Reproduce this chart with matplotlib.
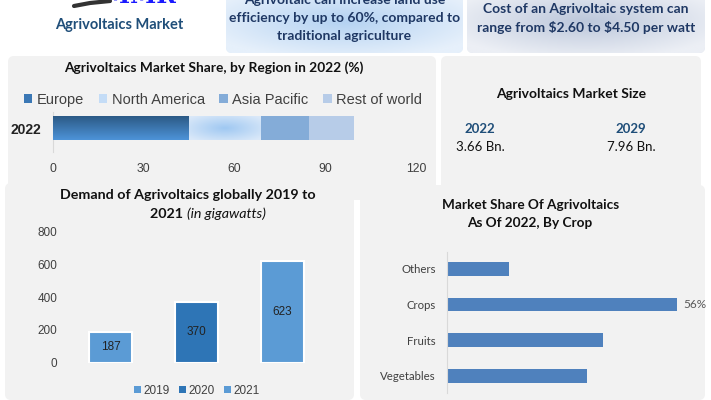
import numpy as np
import matplotlib
matplotlib.use('Agg')
import matplotlib.pyplot as plt
from matplotlib.patches import FancyBboxPatch, Patch
from matplotlib.colors import to_rgb

# ---------------- data ----------------
regions = ['Europe', 'North America', 'Asia Pacific', 'Rest of world']
region_share = [45.0, 23.7, 15.9, 14.8]
region_colors = ['#3b78b5', '#cfe2f8', '#84acd8', '#b7cce8']
region_year = '2022'
region_ticks = [0, 30, 60, 90, 120]

demand_years = ['2019', '2020', '2021']
demand_values = [187, 370, 623]
demand_colors = ['#5b9bd5', '#2e75b6', '#5b9bd5']
demand_ticks = [0, 200, 400, 600, 800]

crops = ['Vegetables', 'Fruits', 'Crops', 'Others']
crop_share = [34, 38, 56, 15]

size_years = ['2022', '2029']
size_values = ['3.66 Bn.', '7.96 Bn.']

W, H = 711, 400
fig = plt.figure(figsize=(7.11, 4.0), dpi=100)
fig.patch.set_facecolor('white')

CAL = ['Lato', 'DejaVu Sans']
ARI = ['Liberation Sans', 'DejaVu Sans']
NAVY = '#1f3864'
PANEL = '#f2f2f2'


def add_ax(x0, y0, x1, y1, **kw):
    return fig.add_axes([x0 / W, 1 - y1 / H, (x1 - x0) / W, (y1 - y0) / H], **kw)


bg = fig.add_axes([0, 0, 1, 1], zorder=-5)
bg.set_xlim(0, W)
bg.set_ylim(H, 0)
bg.axis('off')


def panel(x0, y0, x1, y1, color=PANEL, r=6):
    p = FancyBboxPatch((x0, y0), x1 - x0, y1 - y0,
                       boxstyle=f'round,pad=0,rounding_size={r}',
                       fc=color, ec='none', zorder=0)
    bg.add_patch(p)
    return p


def radial(c_center, c_edge, nx=200, ny=60, scale=1.2):
    X, Y = np.meshgrid(np.linspace(-1, 1, nx), np.linspace(-1, 1, ny))
    R = np.clip(np.sqrt(X ** 2 + Y ** 2) / scale, 0, 1)[..., None]
    cc = np.array(to_rgb(c_center))
    ce = np.array(to_rgb(c_edge))
    return cc[None, None, :] * (1 - R) + ce[None, None, :] * R


# panels
panel(8, 56, 436, 200)
panel(441, 56, 701, 190)
panel(5, 183, 354, 400)
panel(360, 185, 705, 400)

# top boxes with gradients
b1 = panel(226, -10, 463, 53, color='#dceaf8')
im = bg.imshow(radial('#b4d2f2', '#e6f0fb'), extent=[226, 463, 53, -10],
               aspect='auto', zorder=1)
im.set_clip_path(b1)
b2 = panel(467, -10, 705, 53, color='#dfe4ee')
im2 = bg.imshow(radial('#bcc7db', '#eceff5'), extent=[467, 705, 53, -10],
                aspect='auto', zorder=1)
im2.set_clip_path(b2)

# logo + title
bg.text(140, 8, 'MMR', color='#1a1aff', fontsize=17, fontweight='bold',
        family='DejaVu Serif', ha='center', va='bottom', zorder=3)
bg.plot([74, 90, 110], [6, 3, 1], color='#333333', lw=3, zorder=3,
        solid_capstyle='round')
bg.text(119, 25, 'Agrivoltaics Market', color='#1f4e79', fontsize=10.5,
        fontweight='bold', family=CAL, ha='center', va='center', zorder=3)

for i, line in enumerate(['Agrivoltaic can increase land use',
                          'efficiency by up to 60%, compared to',
                          'traditional agriculture']):
    bg.text(344.5, 0 + 18 * i, line, color=NAVY, fontsize=10, fontweight='bold',
            family=CAL, ha='center', va='center', zorder=3)
for i, line in enumerate(['Cost of an Agrivoltaic system can',
                          r'range from \$2.60 to \$4.50 per watt']):
    bg.text(586, 9 + 19 * i, line, color=NAVY, fontsize=10, fontweight='bold',
            family=CAL, ha='center', va='center', zorder=3)

# ---------------- region share chart ----------------
bg.text(214, 68, 'Agrivoltaics Market Share, by Region in 2022 (%)',
        fontsize=9.9, fontweight='bold', family=CAL, color='#111111',
        ha='center', va='center', zorder=3)
ax1 = add_ax(52.7, 112, 416, 152)
ax1.patch.set_alpha(0)
ax1.set_xlim(0, 120)
ax1.set_ylim(0, 40)
left = 0
bars = []
for name, val, col in zip(regions, region_share, region_colors):
    b = ax1.barh(24, val, left=left, height=24, color=col, zorder=2)[0]
    bars.append((b, left, val))
    left += val
# gradients for Europe and North America
b, l0, v = bars[0]
grad = np.linspace(0, 1, 50)[:, None]
c_top = np.array(to_rgb('#2c5a86'))
c_bot = np.array(to_rgb('#4d93d8'))
img = c_top[None, None, :] * (1 - grad[..., None]) + c_bot[None, None, :] * grad[..., None]
img = np.repeat(img, 2, axis=1)
g = ax1.imshow(img, extent=[l0, l0 + v, 12, 36], aspect='auto', zorder=3)
g.set_clip_path(b)
b, l0, v = bars[1]
g2 = ax1.imshow(radial('#9fc8f2', '#dbe9f9', 100, 30, 1.35),
                extent=[l0, l0 + v, 12, 36], aspect='auto', zorder=3)
g2.set_clip_path(b)
ax1.set_xlim(0, 120)
ax1.set_ylim(0, 40)
for s in ['top', 'right', 'bottom']:
    ax1.spines[s].set_visible(False)
ax1.spines['left'].set_color('#d9d9d9')
ax1.set_xticks(region_ticks)
ax1.set_xticklabels([str(t) for t in region_ticks], family=ARI, fontsize=8.8,
                    color='#404040')
ax1.set_yticks([24])
ax1.set_yticklabels([region_year], family=ARI, fontsize=10, fontweight='bold',
                    color='#222222')
ax1.tick_params(axis='x', length=0, pad=8)
ax1.tick_params(axis='y', length=0, pad=8)

handles = [Patch(fc=c, ec='none') for c in ['#3b78b5', '#c4dcf6', '#84acd8', '#b7cce8']]
fig.legend(handles, regions, loc='center', bbox_to_anchor=(223 / W, 1 - 100 / H),
           ncol=4, frameon=False, handlelength=0.6, handleheight=0.6,
           handletextpad=0.3, columnspacing=1.0,
           prop={'family': ARI, 'size': 10.5}, labelcolor='#404040')

# ---------------- market size ----------------
bg.text(571, 94, 'Agrivoltaics Market Size', fontsize=10, fontweight='bold',
        family=CAL, color='#111111', ha='center', va='center', zorder=3)
for xc, yr, val in zip([480, 631], size_years, size_values):
    bg.text(xc, 129, yr, fontsize=9.5, fontweight='bold', family=CAL,
            color='#1f4e79', ha='center', va='center', zorder=3)
    bg.text(xc, 147, val, fontsize=9.5, family=CAL, color='#111111',
            ha='center', va='center', zorder=3)

# ---------------- demand chart ----------------
bg.text(188, 195, 'Demand of Agrivoltaics globally 2019 to', fontsize=10.3,
        fontweight='bold', family=CAL, color='#111111', ha='center',
        va='center', zorder=3)
bg.text(187, 214, '2021 ', fontsize=10.3, fontweight='bold', family=CAL,
        color='#111111', ha='right', va='center', zorder=3)
bg.text(187, 214, '(in gigawatts)', fontsize=10.3, fontstyle='italic',
        family=CAL, color='#111111', ha='left', va='center', zorder=3)

ax3 = add_ax(110.5 - 0.6 * 86, 231.7, 110.5 + 2.65 * 86, 362.7)
ax3.patch.set_alpha(0)
x3 = np.arange(len(demand_years))
ax3.bar(x3, demand_values, width=0.5, color=demand_colors, edgecolor='white',
        linewidth=1.5, zorder=2)
for xi, v in zip(x3, demand_values):
    ax3.text(xi, v / 2, str(v), ha='center', va='center', fontsize=8.5,
             family=ARI, color='#222222', zorder=3)
ax3.set_xlim(-0.6, 2.65)
ax3.set_ylim(0, 800)
ax3.set_yticks(demand_ticks)
ax3.set_yticklabels([str(t) for t in demand_ticks], family=ARI, fontsize=8.5,
                    color='#404040')
ax3.set_xticks([])
ax3.tick_params(axis='y', length=0, pad=1)
for s in ax3.spines.values():
    s.set_visible(False)
h3 = [Patch(fc=c, ec='none') for c in demand_colors]
fig.legend(h3, demand_years, loc='center', bbox_to_anchor=(197 / W, 1 - 391 / H),
           ncol=3, frameon=False, handlelength=0.55, handleheight=0.55,
           handletextpad=0.25, columnspacing=0.8,
           prop={'family': ARI, 'size': 8.5}, labelcolor='#404040')

# ---------------- crop chart ----------------
bg.text(531, 205, 'Market Share Of Agrivoltaics', fontsize=9.8, fontweight='bold',
        family=CAL, color='#111111', ha='center', va='center', zorder=3)
bg.text(530, 223, 'As Of 2022, By Crop', fontsize=9.8, fontweight='bold',
        family=CAL, color='#111111', ha='center', va='center', zorder=3)
ax4 = add_ax(447, 252, 700, 393)
ax4.patch.set_alpha(0)
y4 = np.arange(len(crops))
ax4.barh(y4, crop_share, height=0.39, color='#4f81bd', zorder=2)
ax4.set_xlim(0, 61.6)
ax4.set_ylim(-0.476, 3.47)
ax4.set_yticks(y4)
ax4.set_yticklabels(crops, family=CAL, fontsize=8.2, color='#404040')
ax4.set_xticks([])
ax4.tick_params(axis='y', length=0, pad=8)
for s in ['top', 'right', 'bottom']:
    ax4.spines[s].set_visible(False)
ax4.spines['left'].set_color('#d9d9d9')
ci = crops.index('Crops')
ax4.text(crop_share[ci] + 1.5, ci, f'{crop_share[ci]}%', va='center', ha='left',
         fontsize=8.5, family=CAL, color='#595959')

fig.savefig('out.png', dpi=100, facecolor='white')
